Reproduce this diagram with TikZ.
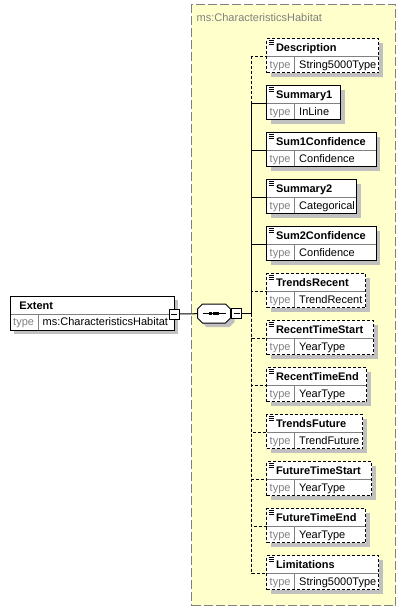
\documentclass[tikz,border=0pt]{standalone}
\usepackage{fontspec}
\setmainfont{Liberation Sans}
\usetikzlibrary{positioning,shadows}
\definecolor{habitatyellow}{RGB}{255,255,204}
\definecolor{linegray}{RGB}{128,128,128}
\definecolor{shadowgray}{RGB}{192,192,192}
\hyphenpenalty=10000

\begin{document}
\begin{tikzpicture}[x=1pt,y=-1pt,
  shadowed/.style={drop shadow={shadow xshift=4pt, shadow yshift=-4pt, opacity=1, fill=shadowgray}},
  box/.style={draw, fill=white, line width=1pt, anchor=north west, outer sep=0pt,
    text width=#1, align=left, inner xsep=9.5pt, inner ysep=5pt,
    text height=8pt, text depth=16pt,
    font=\fontsize{11}{13}\selectfont\bfseries, shadowed,
    path picture={
      \draw[solid, line width=1pt, linegray] ([yshift=-18pt]path picture bounding box.north west) -- ([yshift=-18pt]path picture bounding box.north east);
      \draw[solid, line width=1pt, linegray] ([shift={(28pt,-18pt)}]path picture bounding box.north west) -- ([xshift=28pt]path picture bounding box.south west);
    }},
  elbox/.style={box=#1,
    path picture={
      \draw[solid, line width=1pt, linegray] ([yshift=-18pt]path picture bounding box.north west) -- ([yshift=-18pt]path picture bounding box.north east);
      \draw[solid, line width=1pt, linegray] ([shift={(28pt,-18pt)}]path picture bounding box.north west) -- ([xshift=28pt]path picture bounding box.south west);
      \draw[solid, line width=0.8pt] ([shift={(2pt,-2pt)}]path picture bounding box.north west) -- ++(5pt,0pt)
        ([shift={(2pt,-4pt)}]path picture bounding box.north west) -- ++(5pt,0pt)
        ([shift={(2pt,-6pt)}]path picture bounding box.north west) -- ++(5pt,0pt);
    }},
  optional/.style={dash pattern=on 3pt off 2pt},
  typerow/.style={anchor=base west, inner sep=0pt, font=\fontsize{11}{13}\selectfont},
  seqbox/.style={minimum width=33pt, minimum height=19pt, inner sep=0pt, outer sep=0pt},
  minus/.style={draw, fill=white, line width=1pt, minimum size=10pt, inner sep=0pt, outer sep=0pt,
    path picture={\draw[line width=1pt] ([xshift=2pt]path picture bounding box.west) -- ([xshift=-2pt]path picture bounding box.east);}},
  conn/.style={line width=1pt},
  optconn/.style={conn, dash pattern=on 3pt off 2pt}]

\useasboundingbox (0,0) rectangle (407,611);

% The complex type
\node[draw=linegray, fill=habitatyellow, line width=1pt, dash pattern=on 9pt off 3pt, anchor=north west,
  minimum width=204pt, minimum height=601pt, inner sep=0pt, outer sep=0pt] (ctype) at (191.5,4.5) {};
\node[anchor=base west, inner sep=0pt, text=linegray, font=\fontsize{11}{13}\selectfont] (ctype-title) at ([shift={(5,17)}]ctype.north west) {ms:CharacteristicsHabitat};

% The Extent element
\node[box=145pt] (ext) at (10,296) {Extent};
\node[typerow] (ext-t) at ([shift={(3,29.5)}]ext.north west) {\makebox[29.5pt][l]{\color{linegray}type}ms:CharacteristicsHabitat};
\node[minus] (ext-m) at ([yshift=-18pt]ext.north east) {};

% The sequence
\node[seqbox] (seq) at (214,313.5) {};
\draw[conn, fill=white, shadowed] ([xshift=5pt]seq.north west) -- ([xshift=-5pt]seq.north east) -- ([yshift=-5pt]seq.north east)
  -- ([yshift=5pt]seq.south east) -- ([xshift=-5pt]seq.south east) -- ([xshift=5pt]seq.south west)
  -- ([yshift=5pt]seq.south west) -- ([yshift=-5pt]seq.north west) -- cycle;
\draw[conn] ([xshift=5pt]seq.west) -- ([xshift=-5pt]seq.east);
\fill ([shift={(-4.75pt,-1.5pt)}]seq.center) rectangle ++(3pt,3pt);
\fill ([shift={(-1.5pt,-1.5pt)}]seq.center) rectangle ++(3pt,3pt);
\fill ([shift={(1.75pt,-1.5pt)}]seq.center) rectangle ++(3pt,3pt);
\node[minus, right=1pt of seq] (seq-m) {};

% The child elements
\node[elbox=93pt, optional] (desc) at (266.5,38.5) {Description};
\node[typerow] (desc-t) at ([shift={(3,29.5)}]desc.north west) {\makebox[29.5pt][l]{\color{linegray}type}String5000Type};
\node[elbox=55pt] (sum1) at (266.5,85.5) {Summary1};
\node[typerow] (sum1-t) at ([shift={(3,29.5)}]sum1.north west) {\makebox[29.5pt][l]{\color{linegray}type}InLine};
\node[elbox=90.5pt] (sum1c) at (266.5,132.5) {Sum1Confidence};
\node[typerow] (sum1c-t) at ([shift={(3,29.5)}]sum1c.north west) {\makebox[29.5pt][l]{\color{linegray}type}Confidence};
\node[elbox=71pt] (sum2) at (266.5,179.5) {Summary2};
\node[typerow] (sum2-t) at ([shift={(3,29.5)}]sum2.north west) {\makebox[29.5pt][l]{\color{linegray}type}Categorical};
\node[elbox=90.5pt] (sum2c) at (266.5,226.5) {Sum2Confidence};
\node[typerow] (sum2c-t) at ([shift={(3,29.5)}]sum2c.north west) {\makebox[29.5pt][l]{\color{linegray}type}Confidence};
\node[elbox=80pt, optional] (trec) at (266.5,273.5) {TrendsRecent};
\node[typerow] (trec-t) at ([shift={(3,29.5)}]trec.north west) {\makebox[29.5pt][l]{\color{linegray}type}TrendRecent};
\node[elbox=88pt, optional] (rstart) at (266.5,320.5) {RecentTimeStart};
\node[typerow] (rstart-t) at ([shift={(3,29.5)}]rstart.north west) {\makebox[29.5pt][l]{\color{linegray}type}YearType};
\node[elbox=81pt, optional] (rend) at (266.5,367.5) {RecentTimeEnd};
\node[typerow] (rend-t) at ([shift={(3,29.5)}]rend.north west) {\makebox[29.5pt][l]{\color{linegray}type}YearType};
\node[elbox=77pt, optional] (tfut) at (266.5,414.5) {TrendsFuture};
\node[typerow] (tfut-t) at ([shift={(3,29.5)}]tfut.north west) {\makebox[29.5pt][l]{\color{linegray}type}TrendFuture};
\node[elbox=86pt, optional] (fstart) at (266.5,461.5) {FutureTimeStart};
\node[typerow] (fstart-t) at ([shift={(3,29.5)}]fstart.north west) {\makebox[29.5pt][l]{\color{linegray}type}YearType};
\node[elbox=80pt, optional] (fend) at (266.5,508.5) {FutureTimeEnd};
\node[typerow] (fend-t) at ([shift={(3,29.5)}]fend.north west) {\makebox[29.5pt][l]{\color{linegray}type}YearType};
\node[elbox=93pt, optional] (lim) at (266.5,555.5) {Limitations};
\node[typerow] (lim-t) at ([shift={(3,29.5)}]lim.north west) {\makebox[29.5pt][l]{\color{linegray}type}String5000Type};

% The connectors
\draw[conn] (ext-m) -- (seq);
\draw[optconn] (seq-m.east) -- ++(10,0) |- ([yshift=-18pt]desc.north west);
\draw[optconn] (seq-m.east) -- ++(10,0) |- ([yshift=-18pt]trec.north west);
\draw[optconn] (seq-m.east) -- ++(10,0) |- ([yshift=-18pt]rstart.north west);
\draw[optconn] (seq-m.east) -- ++(10,0) |- ([yshift=-18pt]rend.north west);
\draw[optconn] (seq-m.east) -- ++(10,0) |- ([yshift=-18pt]tfut.north west);
\draw[optconn] (seq-m.east) -- ++(10,0) |- ([yshift=-18pt]fstart.north west);
\draw[optconn] (seq-m.east) -- ++(10,0) |- ([yshift=-18pt]fend.north west);
\draw[optconn] (seq-m.east) -- ++(10,0) |- ([yshift=-18pt]lim.north west);
\draw[conn] (seq-m.east) -- ++(10,0) |- ([yshift=-18pt]sum1.north west);
\draw[conn] (seq-m.east) -- ++(10,0) |- ([yshift=-18pt]sum1c.north west);
\draw[conn] (seq-m.east) -- ++(10,0) |- ([yshift=-18pt]sum2.north west);
\draw[conn] (seq-m.east) -- ++(10,0) |- ([yshift=-18pt]sum2c.north west);

\end{tikzpicture}
\end{document}
